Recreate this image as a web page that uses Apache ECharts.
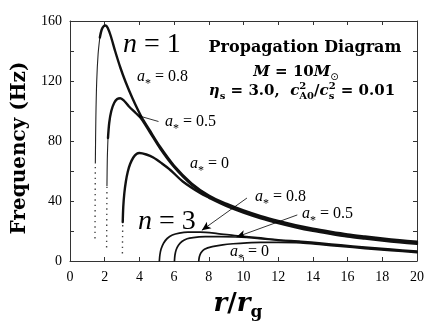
<!DOCTYPE html>
<html>
<head>
<meta charset="utf-8">
<script src="https://cdn.jsdelivr.net/npm/echarts@6/dist/echarts.min.js"></script>
<style>
  html, body { margin: 0; padding: 0; background: #fff; }
  #main { width: 436px; height: 333px; }
</style>
</head>
<body>
<div id="main"></div>
<script>
// axis ticks
const xTicks = [0, 2, 4, 6, 8, 10, 12, 14, 16, 18, 20];
const yTicks = [0, 40, 80, 120, 160];

// n = 1 branches, [r/rg, Hz]
// dotted foot, thin rise, thick body
const n1a08Dots = [[1.44, 15], [1.45, 40], [1.46, 65]];
const n1a08Thin = [[1.46, 65], [1.49, 95], [1.54, 120], [1.62, 138], [1.72, 149]];
const n1a08 = [[1.72, 149], [1.82, 154], [1.94, 156.5], [2.05, 157], [2.17, 155.5], [2.35, 150], [2.6, 140], [2.9, 129], [3.2, 119.5], [3.6, 108.5], [4.1, 96.5], [4.6, 87], [5.2, 76], [6, 63.5], [7, 51.8], [8, 43.7], [9, 38.2], [10, 33.7], [11, 29.9], [12, 26.7], [13, 23.9], [14, 21.5], [15, 19.5], [16, 17.7], [17, 16.3], [18, 15], [19, 13.8], [20, 12.8]];
const n1a05Dots = [[2.11, 9], [2.12, 30], [2.13, 50]];
const n1a05Thin = [[2.13, 50], [2.15, 68], [2.19, 82]];
const n1a05 = [[2.19, 82], [2.26, 92], [2.38, 100], [2.55, 105.5], [2.72, 108], [2.9, 108.5], [3.1, 107], [3.4, 103], [3.8, 98.5], [4.1, 95], [4.6, 86], [5.2, 75], [6, 62.7], [7, 51], [8, 43], [9, 37.5], [10, 33], [11, 29.2], [12, 26], [13, 23.2], [14, 20.8], [15, 18.8], [16, 17], [17, 15.6], [18, 14.3], [19, 13.1], [20, 12.1]];
const n1a0Dots = [[3.02, 5], [3.03, 16], [3.04, 26]];
const n1a0 = [[3.04, 26], [3.07, 36], [3.13, 45], [3.22, 53], [3.33, 59.5], [3.46, 64.5], [3.65, 69], [3.85, 71.5], [4.0, 72], [4.4, 71], [4.8, 69], [5.3, 65], [5.8, 60.5], [6.5, 53], [7.5, 45.3], [8, 42.3], [9, 36.8], [10, 32.3], [11, 28.5], [12, 25.3], [13, 22.5], [14, 20.1], [15, 18.1], [16, 16.3], [17, 14.9], [18, 13.6], [19, 12.4], [20, 11.4]];

// n = 3 branches
const n3a08 = [[5.15, 0], [5.18, 4], [5.25, 8], [5.4, 12], [5.6, 15], [5.9, 17.3], [6.3, 18.6], [6.8, 19.2], [7.5, 19.2], [8.5, 18.3], [9.5, 17], [10.8, 15.6], [12, 14.1], [13.3, 13.1], [14.5, 11.9], [15.6, 10.7], [17, 9.3], [18.5, 7.9], [20, 6.6]];
const n3a05 = [[6.02, 0], [6.05, 4], [6.12, 7.5], [6.25, 10.5], [6.45, 13], [6.75, 14.8], [7.1, 15.6], [7.8, 16.2], [8.6, 16.3], [9.6, 16], [10.8, 15.1], [12, 13.8], [13.3, 12.6], [14.5, 11.4], [15.6, 10.2], [17, 8.8], [18.5, 7.4], [20, 6.1]];
const n3a0 = [[7.42, 0], [7.46, 3], [7.55, 5.5], [7.75, 7.8], [8.2, 9.6], [8.8, 10.8], [9.4, 11.5], [10.2, 12.1], [11, 12.4], [12, 12.4], [13.3, 12.1], [14.5, 10.9], [15.6, 9.7], [17, 8.3], [18.5, 6.9], [20, 5.6]];

// leader lines [from, to] in data units
const arrowN3a08 = [[10.2, 42], [7.6, 20.5]];
const arrowN3a05 = [[13.1, 30.7], [9.6, 16]];
const leaderN1a05 = [[5.1, 93], [4.05, 96.5]];

const chart = echarts.init(document.getElementById('main'));

const SERIF = 'Liberation Serif';
const BSERIF = 'DejaVu Serif';

// lay out math-ish text from pieces (sub / sup / stacked)
const mctx = document.createElement('canvas').getContext('2d');
function mathText(x0, baseline, parts, align) {
  let cur = 0, lastX = 0, lastW = 0;
  const placed = [];
  parts.forEach(function (p) {
    mctx.font = p.font;
    const w = mctx.measureText(p.t).width;
    let x;
    if (p.stack) {
      x = lastX;
      cur = lastX + Math.max(lastW, w);
      lastW = Math.max(lastW, w);
    } else {
      x = cur;
      lastX = cur;
      lastW = w;
      cur += w;
    }
    placed.push({ p: p, x: x });
  });
  const shift = align === 'center' ? -cur / 2 : 0;
  return placed.map(function (o) {
    const size = parseFloat(o.p.font.match(/(\d+(\.\d+)?)px/)[1]);
    return {
      type: 'text',
      x: x0 + shift + o.x,
      y: baseline + (o.p.dy || 0) - 0.3 * size,
      silent: true,
      style: {
        text: o.p.t,
        font: o.p.font,
        fill: '#000',
        textAlign: 'left',
        textVerticalAlign: 'middle'
      }
    };
  });
}

function aLabel(x, y, val) {
  return mathText(x, y, [
    { t: 'a', font: 'italic 16px ' + SERIF },
    { t: '*', font: '12px ' + SERIF, dy: 5 },
    { t: ' = ' + val, font: '16px ' + SERIF }
  ]);
}

const texts = [].concat(
  mathText(123, 53, [
    { t: 'n', font: 'italic 28px ' + SERIF },
    { t: ' = 1', font: '28px ' + SERIF }
  ]),
  mathText(138, 230, [
    { t: 'n', font: 'italic 28px ' + SERIF },
    { t: ' = 3', font: '28px ' + SERIF }
  ]),
  aLabel(137, 82, '0.8'),
  aLabel(165, 127, '0.5'),
  aLabel(190, 169, '0'),
  aLabel(255, 202, '0.8'),
  aLabel(302, 219, '0.5'),
  aLabel(230, 257, '0'),
  mathText(305, 53, [
    { t: 'Propagation Diagram', font: 'bold 16px ' + BSERIF }
  ], 'center'),
  mathText(296, 77, [
    { t: 'M', font: 'bold italic 15px ' + BSERIF },
    { t: ' = 10', font: 'bold 15px ' + BSERIF },
    { t: 'M', font: 'bold italic 15px ' + BSERIF },
    { t: '\u2299', font: '10px DejaVu Sans', dy: 3 }
  ], 'center'),
  mathText(302, 96, [
    { t: '\u03B7', font: 'bold italic 15px ' + BSERIF },
    { t: 's', font: 'bold 10px ' + BSERIF, dy: 3 },
    { t: ' = 3.0,  ', font: 'bold 15px ' + BSERIF },
    { t: 'c', font: 'bold italic 15px ' + BSERIF },
    { t: '2', font: 'bold 10px ' + BSERIF, dy: -7 },
    { t: 'A0', font: 'bold 10px ' + BSERIF, dy: 3, stack: true },
    { t: '/', font: 'bold 15px ' + BSERIF },
    { t: 'c', font: 'bold italic 15px ' + BSERIF },
    { t: '2', font: 'bold 10px ' + BSERIF, dy: -7 },
    { t: 's', font: 'bold 10px ' + BSERIF, dy: 3, stack: true },
    { t: ' = 0.01', font: 'bold 15px ' + BSERIF }
  ], 'center'),
  mathText(238, 312, [
    { t: 'r', font: 'bold italic 26px ' + BSERIF },
    { t: '/', font: 'bold 26px ' + BSERIF },
    { t: 'r', font: 'bold italic 26px ' + BSERIF },
    { t: 'g', font: 'bold 17px ' + BSERIF, dy: 6 }
  ], 'center')
);

texts.push({
  type: 'text',
  x: 20,
  y: 148,
  rotation: Math.PI / 2,
  silent: true,
  style: {
    text: 'Frequency (Hz)',
    font: 'bold 20px ' + BSERIF,
    fill: '#000',
    textAlign: 'center',
    textVerticalAlign: 'middle'
  }
});

const axisCommon = {
  type: 'value',
  axisLine: { show: true, onZero: false, lineStyle: { color: '#333', width: 1 } },
  axisTick: { show: true, inside: true, length: 4, lineStyle: { color: '#333' } },
  splitLine: { show: false }
};
const labelFont = { color: '#000', fontFamily: SERIF, fontSize: 14 };

function curve(data, width) {
  return {
    type: 'line',
    data: data,
    showSymbol: false,
    smooth: 0.3,
    lineStyle: { color: '#111', width: width, cap: 'round', join: 'round' },
    silent: true
  };
}
function thin(data) {
  return {
    type: 'line',
    data: data,
    showSymbol: false,
    smooth: 0.3,
    lineStyle: { color: '#222', width: 1.1 },
    silent: true
  };
}
function dots(data) {
  return {
    type: 'line',
    data: data,
    showSymbol: false,
    lineStyle: { color: '#444', width: 1.4, type: [1.4, 4] },
    silent: true
  };
}

function lead(pair, tip) {
  return [
    { coord: pair[0], symbol: 'none' },
    { coord: pair[1], symbol: tip, symbolSize: tip === 'arrow' ? [6, 9] : 3 }
  ];
}

const n3a0Series = curve(n3a0, 1.7);
n3a0Series.markLine = {
  silent: true,
  label: { show: false },
  lineStyle: { color: '#000', width: 0.8, type: 'solid' },
  data: [lead(arrowN3a08, 'arrow'), lead(arrowN3a05, 'arrow'), lead(leaderN1a05, 'circle')]
};

const option = {
  animation: false,
  backgroundColor: '#fff',
  grid: { left: 70, right: 19, top: 21, bottom: 72 },
  xAxis: [
    Object.assign({}, axisCommon, {
      position: 'bottom', min: 0, max: 20, interval: 2,
      axisLabel: Object.assign({ margin: 9, formatter: function (v) { return xTicks.indexOf(v) >= 0 ? String(v) : ''; } }, labelFont)
    }),
    Object.assign({}, axisCommon, {
      position: 'top', min: 0, max: 20, interval: 2, axisLabel: { show: false }
    })
  ],
  yAxis: [
    Object.assign({}, axisCommon, {
      position: 'left', min: 0, max: 160, interval: 20,
      axisLabel: Object.assign({ margin: 8, formatter: function (v) { return yTicks.indexOf(v) >= 0 ? String(v) : ''; } }, labelFont)
    }),
    Object.assign({}, axisCommon, {
      position: 'right', min: 0, max: 160, interval: 20, axisLabel: { show: false }
    })
  ],
  graphic: texts,
  series: [
    dots(n1a08Dots), thin(n1a08Thin), curve(n1a08, 2.4),
    dots(n1a05Dots), thin(n1a05Thin), curve(n1a05, 2.4),
    dots(n1a0Dots), curve(n1a0, 2.4),
    curve(n3a08, 1.7), curve(n3a05, 1.7), n3a0Series
  ]
};

chart.setOption(option);
</script>
</body>
</html>
